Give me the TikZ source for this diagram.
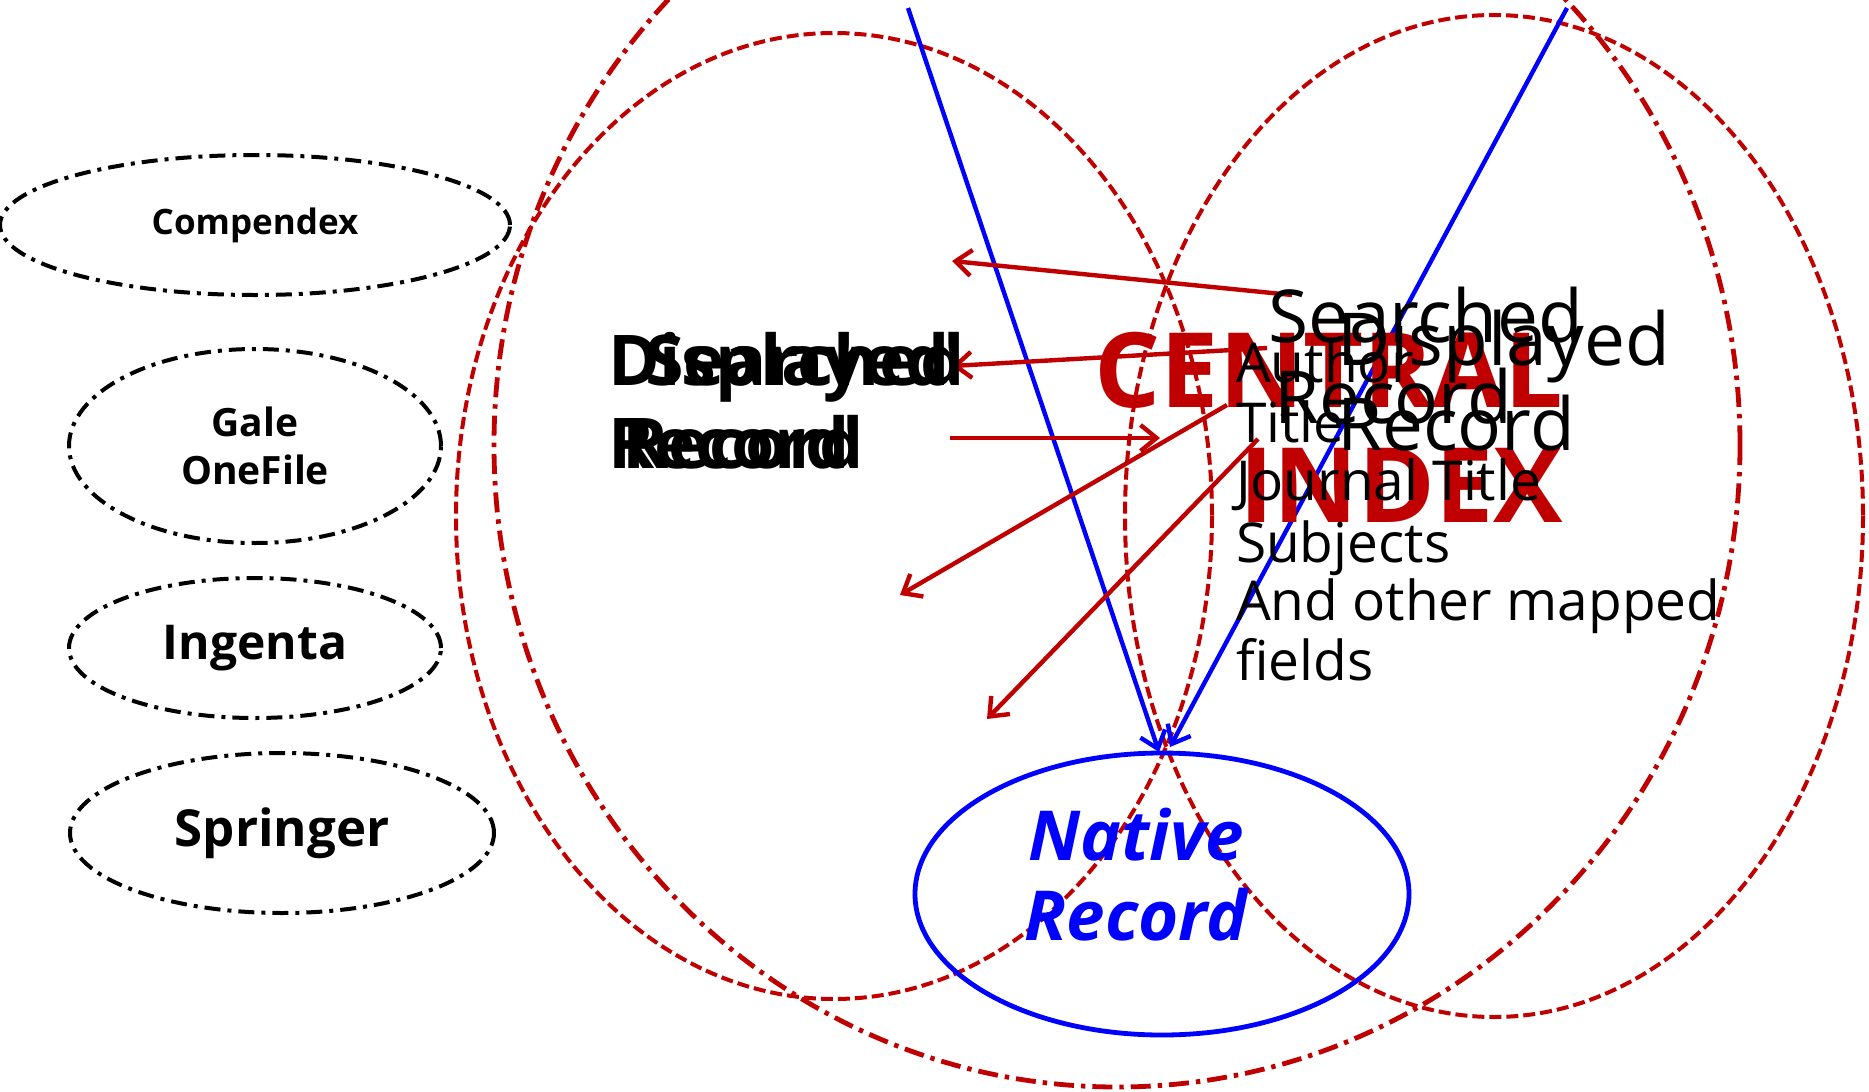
\documentclass[tikz,border=0pt]{standalone}
\usepackage{fontspec}
\setmainfont{Open Sans}
\usetikzlibrary{arrows.meta,shapes.geometric}
\definecolor{dred}{HTML}{C00000}
\definecolor{nblue}{HTML}{0000FF}
\begin{document}
\begin{tikzpicture}[x=0.5pt,y=-0.5pt,
  every node/.style={inner sep=0pt,outer sep=0pt},
  srcbox/.style={ellipse,draw=black,line width=2pt,
    dash pattern=on 8pt off 3.5pt on 2pt off 3.5pt,font=\bfseries,align=center},
  reddash/.style={draw=dred,line width=2pt,dash pattern=on 6pt off 2.5pt},
  reddot/.style={draw=dred,line width=2.4pt,dash pattern=on 10pt off 3.5pt on 2.2pt off 3.5pt},
  redarrow/.style={draw=dred,line width=2.2pt,-{Straight Barb[length=8pt,width=13pt]}},
  bluearrow/.style={draw=nblue,line width=2.2pt,-{Straight Barb[length=8pt,width=13pt]}},
  boldtxt/.style={anchor=base west,font=\fontsize{35pt}{42pt}\selectfont\bfseries},
  regtxt/.style={anchor=base west,font=\fontsize{36.5pt}{42pt}\selectfont},
  fieldtxt/.style={anchor=base west,font=\fontsize{27.5pt}{30pt}\selectfont},
  centxt/.style={anchor=base east,text=dred,font=\fontsize{52pt}{60pt}\selectfont\bfseries},
  nattxt/.style={anchor=base,text=nblue,font=\fontsize{34.5pt}{40pt}\selectfont\bfseries\itshape},
]
\useasboundingbox (0,0) rectangle (1869,1092);
\fill[white] (0,0) rectangle (1869,1092);
\clip (0,0) rectangle (1869,1092);

% source databases
\node[srcbox,minimum width=255pt,minimum height=70pt,font=\fontsize{17.5pt}{21pt}\selectfont\bfseries] (compendex) at (255,225) {Compendex};
\node[srcbox,minimum width=186pt,minimum height=97pt,font=\fontsize{19.5pt}{24pt}\selectfont\bfseries] (gale) at (255,446) {Gale\\OneFile};
\node[srcbox,minimum width=186pt,minimum height=70pt,font=\fontsize{24pt}{28pt}\selectfont\bfseries] (ingenta) at (255,648) {Ingenta};
\node[srcbox,minimum width=212pt,minimum height=80pt,font=\fontsize{25.5pt}{30pt}\selectfont\bfseries] (springer) at (282,833) {Springer};

% big red ellipses
\draw[reddot] (1117,445) ellipse [x radius=623, y radius=642];
\draw[reddash] (834,516) ellipse [x radius=378, y radius=483];
\draw[reddash] (1494,516) ellipse [x radius=369, y radius=501];

% native record
\node[ellipse,draw=nblue,line width=2.4pt,minimum width=247pt,minimum height=141pt] (native) at (1162,894) {};

% blue connectors
\coordinate (bl) at (908,8);
\coordinate (br) at (1567,8);
\coordinate (tipL) at (1159,752);
\coordinate (tipR) at (1170,747);
\draw[bluearrow] (bl) -- (tipL);
\draw[bluearrow] (br) -- (tipR);

% red connectors
\coordinate (t1) at (1292,295); \coordinate (h1) at (952,261);
\coordinate (t2) at (1267,348); \coordinate (h2) at (952,366);
\coordinate (t3) at (950,438);  \coordinate (h3) at (1160,438);
\coordinate (t4) at (1227,405); \coordinate (h4) at (900,595);
\coordinate (t5) at (1258,439); \coordinate (h5) at (987,719);
\draw[redarrow] (t1) -- (h1);
\draw[redarrow] (t2) -- (h2);
\draw[redarrow] (t3) -- (h3);
\draw[redarrow] (t4) -- (h4);
\draw[redarrow] (t5) -- (h5);

% central index
\node[centxt] (central) at (1563,407) {CENTRAL};
\node[centxt] (index) at (1563,522) {INDEX};

% left overlapped labels
\node[boldtxt] (dispL) at (608,385) {Displayed};
\node[boldtxt] (dispLr) at (608,468) {Record};
\node[boldtxt] (searL) at (645,385) {Searched};
\node[boldtxt] (searLr) at (622,468) {Record};

% right overlapped labels
\node[regtxt] (searR) at (1268,342) {Searched};
\node[regtxt] (searRr) at (1274,423) {Record};
\node[regtxt] (dispR) at (1337,365) {Displayed};
\node[regtxt] (dispRr) at (1337,450) {Record};

% fields
\node[fieldtxt] (f1) at (1236,382) {Author};
\node[fieldtxt] (f2) at (1236,442) {Title};
\node[fieldtxt] (f3) at (1236,500) {Journal Title};
\node[fieldtxt] (f4) at (1236,562) {Subjects};
\node[fieldtxt] (f5) at (1236,620) {And other mapped};
\node[fieldtxt] (f6) at (1236,680) {fields};

% native text
\node[nattxt] (nat1) at (1136,860) {Native};
\node[nattxt] (nat2) at (1136,940) {Record};
\end{tikzpicture}
\end{document}
